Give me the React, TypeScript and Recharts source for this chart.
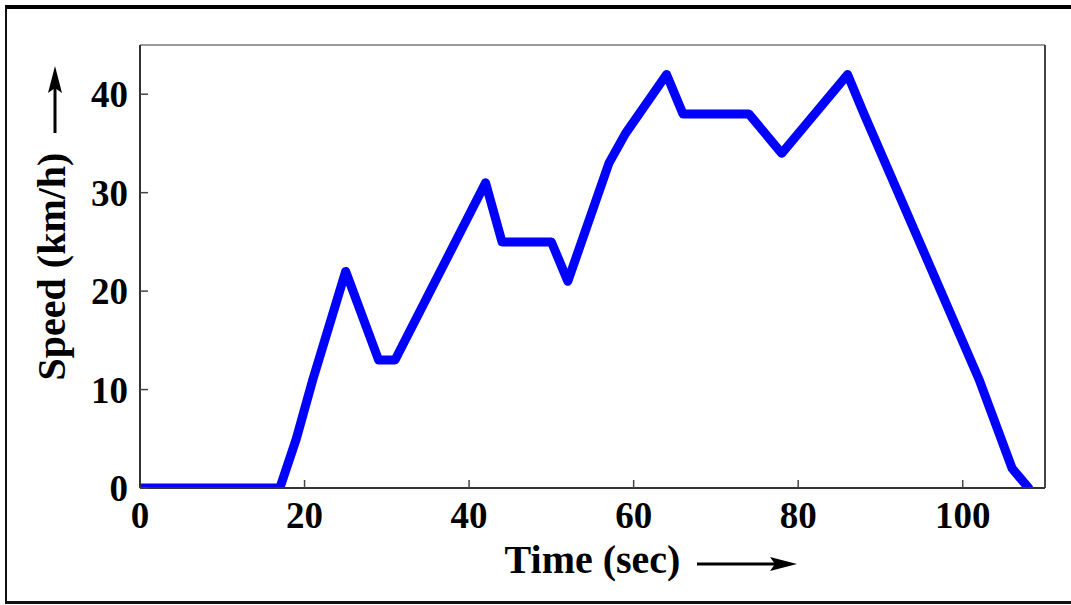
import React from "react";
import { LineChart, Line, XAxis, YAxis, Label } from "recharts";

const times = [0, 17, 19, 21, 25, 29, 31, 42, 44, 50, 52, 57, 59, 64, 66, 74, 78, 86, 88, 102, 106, 108];
const speeds = [0, 0, 5, 11, 22, 13, 13, 31, 25, 25, 21, 33, 36, 42, 38, 38, 34, 42, 38, 11, 2, 0];
const xTicks = [0, 20, 40, 60, 80, 100];
const yTicks = [0, 10, 20, 30, 40];

const data = times.map((t, i) => ({ t, v: speeds[i] }));

const FONT = '"Liberation Serif", "Times New Roman", serif';
const tickStyle = { fill: "#000", fontSize: 37, fontWeight: 700, fontFamily: FONT };

export default function App() {
  return (
    <div style={{ position: "absolute", left: 0, top: 0, width: 1071, height: 605, background: "#fff", overflow: "hidden" }}>
      <div
        style={{
          position: "absolute",
          left: 5,
          top: 5,
          width: 1200,
          height: 592,
          borderTop: "4px solid #000",
          borderLeft: "2px solid #111",
          borderBottom: "3px solid #111",
          boxSizing: "content-box",
        }}
      />
      <div style={{ position: "absolute", left: 0, top: 0 }}>
        <LineChart width={1071} height={605} data={data} margin={{ top: 35, right: 16, bottom: 57, left: 80 }}>
          <XAxis
            dataKey="t"
            type="number"
            domain={[0, 110]}
            ticks={xTicks}
            allowDataOverflow
            height={60}
            axisLine={{ stroke: "#333", strokeWidth: 2 }}
            tickLine={{ stroke: "#444", strokeWidth: 1.5 }}
            tickSize={-8}
            tickMargin={22}
            tick={tickStyle}
          >
            <Label
              value="Time (sec)"
              position="center"
              dy={41}
              style={{ fill: "#000", fontSize: 40, fontWeight: 700, fontFamily: FONT }}
            />
          </XAxis>
          <XAxis
            xAxisId="top"
            orientation="top"
            dataKey="t"
            type="number"
            domain={[0, 110]}
            ticks={xTicks}
            allowDataOverflow
            height={10}
            axisLine={{ stroke: "#999", strokeWidth: 2 }}
            tickLine={{ stroke: "#444", strokeWidth: 1.5 }}
            tickSize={-8}
            tick={false}
          />
          <YAxis
            type="number"
            domain={[0, 45]}
            ticks={yTicks}
            allowDataOverflow
            width={60}
            axisLine={{ stroke: "#333", strokeWidth: 2 }}
            tickLine={{ stroke: "#444", strokeWidth: 1.5 }}
            tickSize={-8}
            tickMargin={20}
            tick={tickStyle}
          >
            <Label
              value="Speed (km/h)"
              position="center"
              angle={-90}
              dx={-59}
              style={{ fill: "#000", fontSize: 40, fontWeight: 700, fontFamily: FONT }}
            />
          </YAxis>
          <YAxis
            yAxisId="right"
            orientation="right"
            type="number"
            domain={[0, 45]}
            ticks={yTicks}
            allowDataOverflow
            width={10}
            axisLine={{ stroke: "#444", strokeWidth: 2 }}
            tickLine={{ stroke: "#444", strokeWidth: 1.5 }}
            tickSize={-8}
            tick={false}
          />
          <Line
            type="linear"
            dataKey="v"
            stroke="#0000ff"
            strokeWidth={9}
            strokeLinejoin="round"
            strokeLinecap="round"
            dot={false}
            isAnimationActive={false}
          />
        </LineChart>
      </div>
      <svg width={1071} height={605} style={{ position: "absolute", left: 0, top: 0, pointerEvents: "none" }}>
        <line x1={55} y1={133} x2={55} y2={86} stroke="#000" strokeWidth={3} />
        <polygon points="55,66 48,93 55,88 62,93" fill="#000" />
        <line x1={697} y1={564} x2={780} y2={564} stroke="#000" strokeWidth={3} />
        <polygon points="797,564 770,557 775,564 770,571" fill="#000" />
      </svg>
    </div>
  );
}
